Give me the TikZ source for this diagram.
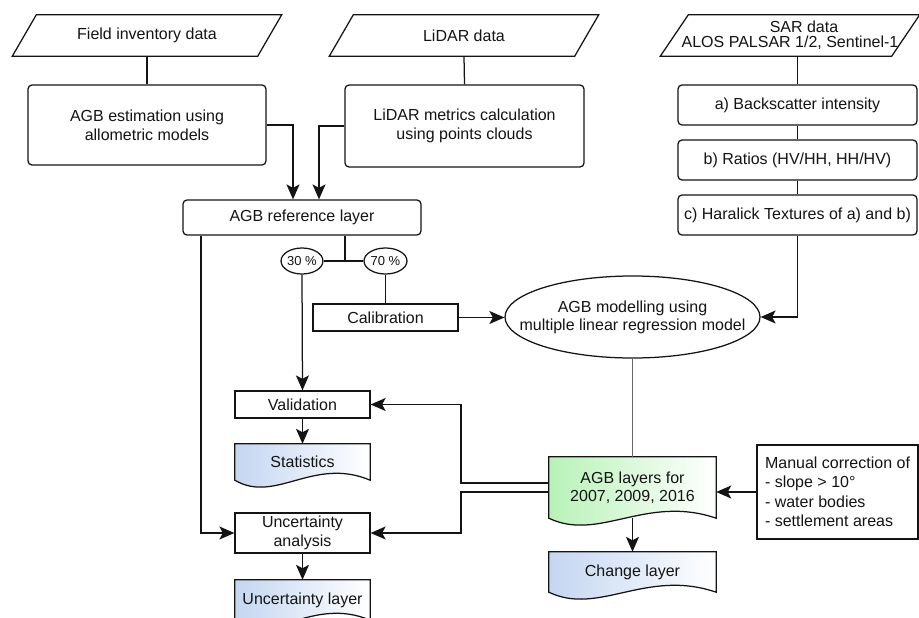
\documentclass[tikz,border=0pt]{standalone}
\usepackage{fontspec}
\setmainfont{Liberation Sans}
\usetikzlibrary{arrows.meta,calc,shapes.geometric,backgrounds}
\definecolor{ink}{HTML}{141414}
\definecolor{docblue}{HTML}{C4D6F1}
\definecolor{docgreen}{HTML}{B8F2B8}

\begin{document}
\begin{tikzpicture}[x=1pt,y=-1pt,
  every node/.style={font=\fontsize{16}{19}\selectfont, text=ink, inner sep=2pt},
  line/.style={draw=ink, line width=1.25pt},
  arr/.style={line, -{Stealth[length=15pt,width=13pt,inset=3.5pt]}},
  rbox/.style={line, rounded corners=4pt, align=center},
  sbox/.style={line, align=center},
  plain/.style={align=center},
  pct/.style={line, ellipse, inner sep=0pt, font=\fontsize{13}{15}\selectfont},
]
\useasboundingbox (0,0) rectangle (919,618);

% input data (parallelograms)
\node[plain, minimum width=245pt, minimum height=41pt] (fid) at (147,35.5) {Field inventory data};
\node[plain, minimum width=245pt, minimum height=41pt] (lid) at (464,35.5) {LiDAR data};
\node[plain, minimum width=231pt, minimum height=41pt, font=\fontsize{16}{15}\selectfont]
  (sar) at (790,35.5) {\hspace*{28pt}SAR data\\ALOS PALSAR 1/2, Sentinel-1};
\draw[line] ([xshift=-12pt]fid.south west) -- ([xshift=-12pt]fid.south east)
  -- ([xshift=12pt]fid.north east) -- ([xshift=12pt]fid.north west) -- cycle;
\draw[line] ([xshift=-12pt]lid.south west) -- ([xshift=-12pt]lid.south east)
  -- ([xshift=12pt]lid.north east) -- ([xshift=12pt]lid.north west) -- cycle;
\draw[line] ([xshift=-14pt]sar.south west) -- ([xshift=-14pt]sar.south east)
  -- ([xshift=14pt]sar.north east) -- ([xshift=14pt]sar.north west) -- cycle;

% processing steps
\node[rbox, minimum width=238pt, minimum height=80pt] (agbest) at (147,125) {AGB estimation using\\allometric models};
\node[rbox, minimum width=239pt, minimum height=82pt] (lidbox) at (464.5,126) {LiDAR metrics calculation\\using points clouds};
\node[rbox, minimum width=239pt, minimum height=40pt] (bsc) at (797.5,105) {a) Backscatter intensity};
\node[rbox, minimum width=239pt, minimum height=40pt] (rat) at (797.5,160) {b) Ratios (HV/HH, HH/HV)};
\node[rbox, minimum width=239pt, minimum height=40pt] (har) at (797.5,215) {c) Haralick Textures of a) and b)};
\node[rbox, minimum width=238pt, minimum height=35pt] (ref) at (302,217.5) {AGB reference layer};

\node[pct, minimum width=40pt, minimum height=26pt] (p30) at (302,261) {30 \%};
\node[pct, minimum width=43pt, minimum height=26pt] (p70) at (385.5,261) {70 \%};
\node[sbox, minimum width=145pt, minimum height=27pt] (cal) at (385.5,317.5) {Calibration};

\node[line, ellipse, inner sep=0pt, minimum width=255pt, minimum height=82pt] (mod) at (632.5,317) {};
\node[plain, font=\fontsize{16}{18}\selectfont] (modtext) at (mod) {AGB modelling using\\multiple linear regression model};

\node[sbox, minimum width=135pt, minimum height=27pt] (val) at (302.5,404.5) {Validation};
\node[plain, minimum width=135pt, minimum height=36pt] (stat) at (302.5,462) {Statistics};
\node[sbox, minimum width=135pt, minimum height=40pt, font=\fontsize{16}{19}\selectfont] (unc) at (302.5,533) {Uncertainty\\analysis};
\node[plain, minimum width=135pt, minimum height=40pt] (ulay) at (302.5,600) {Uncertainty layer};

\node[plain, minimum width=167pt, minimum height=61pt, font=\fontsize{16}{18}\selectfont] (lay) at (632.5,487.5) {AGB layers for\\2007, 2009, 2016};
\node[plain, minimum width=167pt, minimum height=40pt] (chg) at (632.5,572) {Change layer};
\node[sbox, align=left, minimum width=161pt, minimum height=94pt, font=\fontsize{16}{19.5}\selectfont] (man) at (837.5,492)
  {Manual correction of\\- slope > 10°\\- water bodies\\- settlement areas};

% document shapes with wavy bottom edge
\begin{scope}[on background layer]
  \fill[white] (0,0) rectangle (919,618);
  \foreach \n/\c in {stat/docblue, ulay/docblue, chg/docblue, lay/docgreen} {
    \path[line, left color=\c, right color=white]
      (\n.north west) -- (\n.north east) -- (\n.south east)
      .. controls ($(\n.south west)!0.58!(\n.south east)+(0,-24)$)
         and ($(\n.south west)!0.3!(\n.south east)+(0,24)$) .. (\n.south west)
      -- cycle;
  }
\end{scope}

% connectors
\coordinate (ja) at (293,0);
\coordinate (jb) at (319,0);
\coordinate (split) at (345,261);
\coordinate (bus) at (461,0);
\coordinate (lft) at (201,0);

\draw[line] (fid.south) -- (agbest.north);
\draw[line] (lid.south) -- (lidbox.north);
\draw[line] (bsc.north |- sar.south) -- (bsc.north);
\draw[line] (bsc.south) -- (rat.north);
\draw[line] (rat.south) -- (har.north);
\draw[arr] (har.south) |- (mod.east);

\draw[arr] (agbest.east) -| (ja |- ref.north);
\draw[arr] (lidbox.west) -| (jb |- ref.north);

\draw[line] (split |- ref.south) -- (split);
\draw[line] (p30.east) -- (p70.west);
\draw[arr] (p30.south) -- (val.north);
\draw[line] (p70.south) -- (cal.north);
\draw[arr] (cal.east) -- (cal.east -| mod.west);

\draw[draw=gray!80!black, line width=1pt] (mod.south) -- (lay.north);
\draw[arr] (man.west) -- (man.west -| lay.east);
\draw[arr] (lay.south) -- (chg.north);

\draw[arr] (val.south) -- (stat.north);
\draw[arr] (unc.south) -- (ulay.north);
\draw[arr] ($(lay.west)+(0,-4.5)$) -| (bus |- val.east) -- (val.east);
\draw[arr] ($(lay.west)+(0,4.5)$) -| (bus |- unc.east) -- (unc.east);
\draw[arr] (lft |- ref.south) |- (unc.west);
\end{tikzpicture}
\end{document}
